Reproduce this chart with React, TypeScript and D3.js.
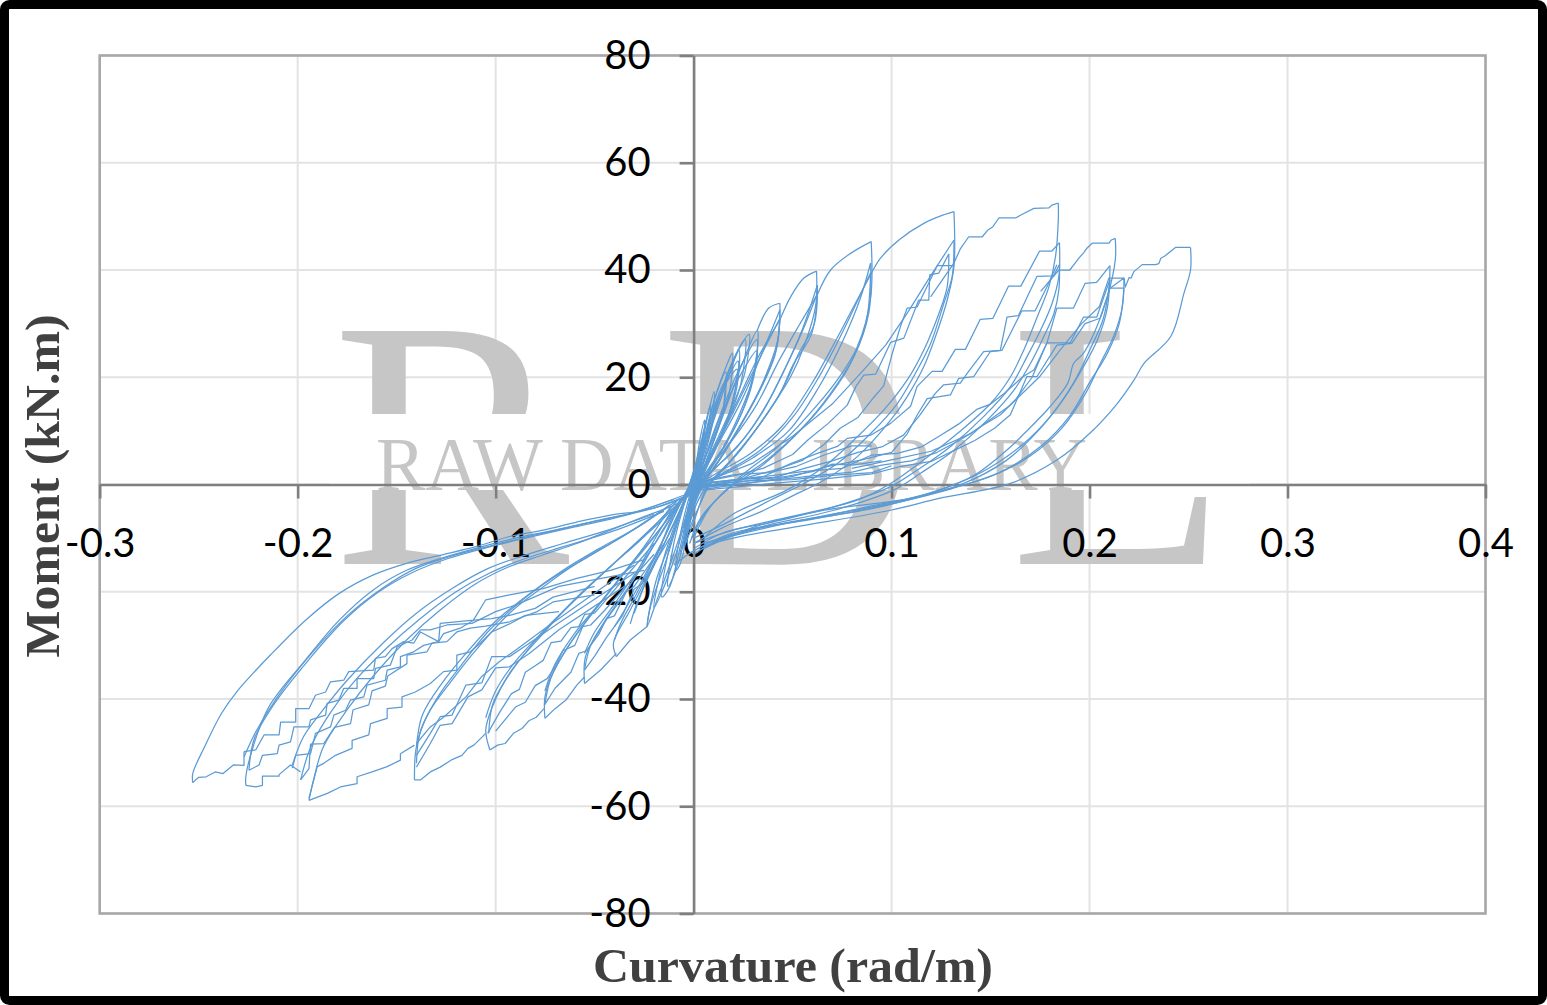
import React, { useEffect, useRef } from "react";
import * as d3 from "d3";

type Pt = [number, number];

const xTicks = [-0.3, -0.2, -0.1, 0, 0.1, 0.2, 0.3, 0.4];
const yTicks = [-80, -60, -40, -20, 0, 20, 40, 60, 80];
const xTitle = "Curvature (rad/m)";
const yTitle = "Moment (kN.m)";

// positive side, stepped reloading up to each peak
const stairP1: Pt[] = [[0, -0.1], [0.0187, 0.8], [0.0355, 1.5], [0.049, 3.9], [0.0625, 5.8], [0.0726, 7.1], [0.0776, 8.6], [0.0894, 9.2], [0.0995, 11.4], [0.1096, 14.6], [0.1129, 18.3], [0.1205, 21.1], [0.1255, 21.1], [0.1322, 25.2], [0.1373, 25.2], [0.1448, 30.8], [0.1512, 31], [0.1591, 37], [0.1653, 37], [0.1747, 43.5], [0.1809, 43.5], [0.1848, 45.1]];
const stairP2: Pt[] = [[0.002, -0.5], [0.022, 0.5], [0.04, 1.2], [0.056, 3], [0.07, 4.4], [0.083, 6], [0.095, 7], [0.106, 9.2], [0.114, 12.8], [0.1221, 17], [0.1263, 18.6], [0.1347, 18.9], [0.1389, 21.1], [0.1465, 24.8], [0.1549, 25], [0.1583, 31.2], [0.1641, 31.5], [0.1734, 38.8], [0.1818, 38.9], [0.1848, 41]];
const stairP3: Pt[] = [[0.003, -1], [0.03, 0.4], [0.05, 1.5], [0.068, 3.4], [0.085, 4.6], [0.1, 6], [0.108, 9.5], [0.113, 13], [0.118, 16], [0.1297, 16.7], [0.1339, 19.8], [0.1415, 20.1], [0.1499, 24.8], [0.1557, 25], [0.1658, 32.4], [0.1725, 32.4], [0.1793, 37.5], [0.1835, 41]];
const stairA1: Pt[] = [[0.002, 0], [0.03, 1.2], [0.055, 2.4], [0.075, 3], [0.09, 5.5], [0.103, 5.8], [0.115, 7], [0.124, 9], [0.134, 11.3], [0.143, 14], [0.15, 15], [0.157, 17], [0.166, 20], [0.172, 21.4], [0.1785, 26.4], [0.1835, 32.9], [0.1919, 32.9], [0.1977, 37.5], [0.2036, 37.7], [0.2103, 40.8]];
const stairA2: Pt[] = [[0.004, -0.6], [0.035, 0.6], [0.06, 1.6], [0.08, 2.3], [0.095, 3.6], [0.11, 4.4], [0.123, 6], [0.135, 8.4], [0.146, 11], [0.155, 13], [0.163, 16], [0.171, 20], [0.1784, 26.4], [0.1902, 26.4], [0.1969, 31.2], [0.2036, 31.2], [0.2103, 38.2]];
const stairA3: Pt[] = [[0.006, -1], [0.04, 0.2], [0.065, 1], [0.09, 2], [0.105, 3.4], [0.12, 4.3], [0.132, 6.4], [0.142, 8.2], [0.152, 10.5], [0.16, 13], [0.1683, 20.1], [0.1734, 20.1], [0.1835, 26], [0.191, 26.3], [0.1977, 30], [0.2053, 31], [0.2103, 36.6], [0.2174, 36.6]];
const stairA4: Pt[] = [[0.08, 3], [0.1, 4.6], [0.12, 6.2], [0.14, 9.5], [0.16, 14.8], [0.175, 20.2], [0.185, 25], [0.196, 30], [0.205, 33.2], [0.2098, 38.5], [0.2174, 38.5]];
const stairT1: Pt[] = [[0.002, 0.3], [0.02, 1.6], [0.035, 3], [0.05, 5.6], [0.058, 8.4], [0.068, 11.4], [0.0776, 14.8], [0.082, 18.3], [0.086, 20.4], [0.092, 20.6], [0.0995, 26.5], [0.1062, 27.3], [0.1137, 34.4], [0.1188, 34.4], [0.1193, 39.1], [0.1238, 39.4], [0.1289, 43]];
const stairT2: Pt[] = [[0.003, -0.5], [0.024, 1], [0.04, 2.6], [0.055, 4.5], [0.066, 7.5], [0.074, 10.5], [0.083, 12.5], [0.09, 15.8], [0.096, 18.4], [0.1, 24], [0.1045, 29.5], [0.1079, 32.9], [0.1129, 33.1], [0.123, 40.8], [0.1314, 40.8]];
const stairT3: Pt[] = [[0.002, 0], [0.03, 4], [0.05, 9], [0.07, 15], [0.085, 21], [0.097, 26], [0.108, 32], [0.119, 38.5], [0.1315, 45.6]];

// positive side, rise to the next peak
const arcTo251: Pt[] = [[0.2103, 36.6], [0.2174, 38.5], [0.218, 36.8], [0.22, 38.6], [0.221, 38.5], [0.2224, 39.7], [0.2266, 41], [0.2333, 41], [0.235, 41.2], [0.236, 42.2], [0.238, 42.6], [0.2434, 44.2], [0.251, 44.2]];
const arcTo213: Pt[] = [[0.1753, 36], [0.1845, 40], [0.19, 40], [0.1925, 41.2], [0.1946, 42.2], [0.197, 43.2], [0.1985, 44], [0.2013, 45], [0.2098, 45], [0.211, 45.6], [0.213, 45.9]];
const arcTo184: Pt[] = [[0.1197, 35], [0.1315, 41.3], [0.1348, 44], [0.139, 46.2], [0.1458, 46.2], [0.1485, 47.4], [0.151, 48], [0.1542, 49.7], [0.1626, 49.7], [0.166, 50.4], [0.1719, 51.5], [0.1795, 51.6], [0.181, 52.1], [0.1842, 52.5]];
const arcTo131: Pt[] = [[0.0894, 39.1], [0.0944, 42.2], [0.1037, 45.6], [0.1163, 48.7], [0.1264, 50.3], [0.1315, 50.9]];
const arcTo090: Pt[] = [[0.0625, 35.4], [0.0692, 40], [0.0793, 43.1], [0.0897, 45.3]];
const arcTo062: Pt[] = [[0.0436, 30.7], [0.049, 35], [0.0557, 38.5], [0.0621, 39.8]];
const arcTo044: Pt[] = [[0.0322, 28.8], [0.038, 32.9], [0.0436, 33.8]];

// positive side, unloading curves running down through zero
const fall251: Pt[] = [[0.251, 44.2], [0.251, 40], [0.2477, 35.7], [0.241, 27.6], [0.2275, 22.6], [0.2225, 19.5], [0.214, 15.1], [0.2, 9.5], [0.1837, 4.6], [0.16, 0.2], [0.124, -2.6], [0.0995, -4.8], [0.05, -8], [0.02, -10], [0.002, -12], [-0.01, -15]];
const fall218a: Pt[] = [[0.2174, 38.5], [0.2165, 33], [0.212, 27.5], [0.206, 23], [0.198, 17], [0.186, 10.5], [0.17, 5.3], [0.15, 1.5], [0.125, -1.2], [0.09, -4.5], [0.05, -7], [0.018, -9.5], [0, -13]];
const fall218b: Pt[] = [[0.2174, 36.6], [0.215, 30], [0.209, 24.5], [0.2, 19], [0.19, 12.8], [0.176, 7.3], [0.156, 2.5], [0.13, -0.8], [0.095, -4], [0.055, -6.8], [0.02, -9], [0.002, -12]];
const fall213a: Pt[] = [[0.213, 45.9], [0.213, 41.9], [0.209, 35], [0.203, 28.8], [0.197, 24.5], [0.192, 22.6], [0.189, 18.9], [0.18, 14.5], [0.167, 9.5], [0.16, 7], [0.143, 2], [0.133, 0.2], [0.113, -2.3], [0.0995, -3.2], [0.066, -4.8], [0.03, -8], [0.005, -12]];
const fall211a: Pt[] = [[0.2103, 40.8], [0.209, 33], [0.204, 27], [0.197, 22], [0.187, 16], [0.174, 10], [0.158, 4.5], [0.135, 0], [0.105, -3], [0.07, -5.6], [0.035, -8], [0.006, -11]];
const fall211b: Pt[] = [[0.2103, 38.2], [0.207, 31], [0.2, 25], [0.192, 19], [0.18, 12.6], [0.166, 7.4], [0.145, 2.2], [0.12, -1.5], [0.085, -4.4], [0.045, -7.4], [0.01, -10.5]];
const fall184a: Pt[] = [[0.1842, 52.5], [0.1842, 49.3], [0.1828, 42.5], [0.1795, 36.9], [0.1736, 31.3], [0.1668, 25.1], [0.1601, 20.1], [0.15, 15.1], [0.1332, 9.5], [0.1163, 4.6], [0.0995, 0.2], [0.0827, -2.9], [0.049, -6], [0.02, -8.5], [0, -11]];
const fall184b: Pt[] = [[0.1848, 45.1], [0.1845, 38.8], [0.1811, 33.8], [0.1753, 28.8], [0.1685, 23.9], [0.1601, 18.3], [0.1466, 12.7], [0.1298, 7.1], [0.113, 2.7], [0.0995, -0.4], [0.0742, -3.8], [0.04, -7], [0.015, -9], [0, -12]];
const fall184c: Pt[] = [[0.1848, 41], [0.1845, 36.3], [0.182, 31.9], [0.1769, 27.6], [0.1702, 22.6], [0.1618, 17.6], [0.1483, 12], [0.1315, 6.4], [0.1146, 2.1], [0.1012, -1], [0.0709, -4.8], [0.035, -7.8], [0.005, -11]];
const fall131a: Pt[] = [[0.1315, 50.9], [0.1315, 40.6], [0.1281, 34.4], [0.1222, 27.6], [0.1163, 22], [0.1079, 16.4], [0.0995, 12], [0.0827, 5.2], [0.0658, 0.8], [0.049, -2.3], [0.0355, -4.8], [0.015, -8], [0, -11]];
const fall131b: Pt[] = [[0.1315, 45.6], [0.1306, 38.8], [0.1264, 33.8], [0.1197, 26.3], [0.113, 21.4], [0.1029, 15.1], [0.0894, 9.5], [0.0726, 3.9], [0.0557, 0.2], [0.0389, -2.9], [0.012, -8], [0, -10]];
const fall131c: Pt[] = [[0.1289, 43], [0.1281, 36.9], [0.1239, 31.9], [0.1163, 25.1], [0.1079, 19.5], [0.0961, 13.9], [0.0827, 8.9], [0.0658, 3.3], [0.0473, -1], [0.02, -5.5], [0.005, -10]];
const fall090a: Pt[] = [[0.0897, 45.3], [0.0894, 34.8], [0.0827, 25.7], [0.0726, 19.5], [0.0574, 12.7], [0.0406, 6.4], [0.0237, 1.5], [0.0086, -4.1], [0, -10]];
const fall090b: Pt[] = [[0.0894, 41.3], [0.0885, 32], [0.081, 23.9], [0.0692, 17], [0.054, 10.2], [0.0372, 4.6], [0.0204, 0.2], [0.0069, -4.8], [-0.001, -10]];
const fall090c: Pt[] = [[0.0894, 39.5], [0.087, 30], [0.0785, 22], [0.0658, 15.1], [0.0507, 8.9], [0.0338, 3.3], [0.017, -1], [0.004, -6], [-0.002, -11]];
const fall062a: Pt[] = [[0.0621, 39.8], [0.0616, 33.2], [0.0557, 25.7], [0.049, 20.1], [0.0372, 13.3], [0.0237, 6.4], [0.0086, 0.2], [0.0019, -4.8], [-0.003, -9]];
const fall062b: Pt[] = [[0.0625, 37.2], [0.061, 30], [0.0532, 24.5], [0.0456, 18.3], [0.0338, 11.4], [0.0204, 5.2], [0.0069, -0.4], [0.001, -6], [-0.004, -11]];
const fall062c: Pt[] = [[0.0625, 35.7], [0.0595, 28], [0.0505, 22.5], [0.043, 16.5], [0.031, 10], [0.018, 4], [0.005, -1.2], [0, -5], [-0.005, -12]];
const fall044a: Pt[] = [[0.0436, 33.8], [0.0426, 27.2], [0.0355, 19.5], [0.0271, 13.3], [0.0153, 5.8], [0.0052, 0.2], [0.0002, -4.1], [-0.005, -10]];
const fall044b: Pt[] = [[0.0436, 32.6], [0.042, 25.5], [0.034, 18], [0.025, 12], [0.0135, 5], [0.004, -0.5], [-0.001, -5], [-0.006, -12]];
const fall044c: Pt[] = [[0.0436, 31], [0.041, 24], [0.032, 16.5], [0.023, 10.5], [0.012, 4], [0.003, -1], [-0.002, -6], [-0.007, -13]];

// reloading lines for the middle amplitudes
const rise090a: Pt[] = [[-0.002, -1], [0.012, 2.2], [0.028, 5.6], [0.045, 11], [0.06, 19], [0.072, 27], [0.082, 34], [0.0894, 39.1]];
const rise090b: Pt[] = [[-0.001, -1], [0.014, 1.8], [0.03, 5], [0.048, 10], [0.063, 18], [0.075, 26.5], [0.084, 34.5], [0.0894, 41.3]];
const rise090c: Pt[] = [[0, -0.5], [0.018, 2.8], [0.034, 6.5], [0.05, 12.5], [0.064, 20.5], [0.076, 29], [0.085, 36], [0.0894, 39.5]];
const rise062a: Pt[] = [[-0.002, -1.2], [0.01, 2.8], [0.022, 7], [0.034, 13], [0.046, 21.5], [0.055, 29], [0.0625, 37.2]];
const rise062b: Pt[] = [[-0.001, -0.8], [0.012, 3.4], [0.025, 8.4], [0.037, 15], [0.048, 23], [0.056, 29.5], [0.0625, 35.7]];
const rise062c: Pt[] = [[-0.002, -1.5], [0.009, 3.5], [0.02, 8.5], [0.032, 15], [0.043, 23], [0.053, 29.5], [0.0625, 35.4]];
const rise044a: Pt[] = [[-0.003, -1.5], [0.006, 3.5], [0.014, 8.6], [0.024, 15.5], [0.034, 24], [0.0436, 32.6]];
const rise044b: Pt[] = [[-0.002, -1], [0.007, 4.5], [0.016, 10.5], [0.026, 18], [0.036, 25.5], [0.0436, 31]];
const rise044c: Pt[] = [[-0.003, -2], [0.005, 3], [0.012, 8], [0.022, 15.5], [0.033, 24], [0.0436, 30.7]];

// tight cycles close to the origin, positive side
const smallP1: Pt[] = [[-0.005, -8], [0, -3], [0.008, 6], [0.016, 14], [0.024, 22], [0.0322, 28.8], [0.031, 22], [0.025, 14], [0.017, 8], [0.008, 2.5], [0, -3], [-0.004, -8]];
const smallP2: Pt[] = [[-0.004, -7], [0, -2], [0.007, 6.5], [0.015, 14.5], [0.023, 21.5], [0.032, 27], [0.03, 20], [0.023, 13], [0.015, 7], [0.006, 2], [-0.001, -4], [-0.005, -10]];
const smallP3: Pt[] = [[-0.005, -9], [-0.001, -3], [0.006, 5], [0.014, 13], [0.023, 20], [0.032, 25], [0.029, 18], [0.022, 11.5], [0.013, 5.5], [0.005, 1], [-0.002, -5]];
const smallP4: Pt[] = [[-0.004, -6], [0, -1.5], [0.006, 7], [0.012, 14], [0.018, 20.5], [0.0229, 25.1], [0.022, 18.5], [0.017, 12], [0.01, 6], [0.004, 1], [-0.002, -5], [-0.005, -9]];
const smallP5: Pt[] = [[-0.003, -5], [0, -1], [0.005, 7], [0.01, 13.5], [0.016, 19], [0.0225, 23], [0.02, 16], [0.015, 10], [0.008, 4.5], [0.002, 0], [-0.003, -6]];
const smallP6: Pt[] = [[-0.004, -7], [-0.001, -2], [0.004, 5.5], [0.009, 12], [0.015, 18], [0.022, 21.5], [0.019, 14.5], [0.013, 8.5], [0.006, 3], [0, -2.5]];
const smallP7: Pt[] = [[-0.003, -6], [0, -0.5], [0.004, 6], [0.008, 12.5], [0.012, 17.5], [0.0162, 21], [0.0155, 15], [0.011, 9], [0.006, 4], [0.001, -1], [-0.003, -7]];
const smallP8: Pt[] = [[-0.002, -4], [0.001, 1], [0.005, 7.5], [0.009, 13], [0.0155, 19], [0.0145, 13], [0.009, 7], [0.004, 2], [-0.001, -3.5]];
const smallP9: Pt[] = [[-0.003, -5], [0, 0], [0.004, 7], [0.007, 12.5], [0.0103, 17.3], [0.0095, 11.5], [0.006, 6], [0.002, 1], [-0.002, -4.5]];
const smallP10: Pt[] = [[-0.002, -4], [0.001, 2], [0.004, 8], [0.0085, 15], [0.0075, 9.5], [0.004, 4.5], [0, -1], [-0.003, -6]];
const smallP11: Pt[] = [[-0.002, -3], [0.001, 3], [0.003, 8], [0.0055, 12], [0.0048, 7], [0.002, 2], [-0.001, -2.5]];
const smallP12: Pt[] = [[-0.003, -4.5], [0.001, 0.5], [0.0065, 8], [0.012, 15], [0.0185, 22], [0.026, 27], [0.024, 19], [0.018, 12.5], [0.011, 6.5], [0.004, 1.5], [-0.002, -4]];
const smallP13: Pt[] = [[-0.003, -5.5], [0, -1], [0.0075, 9], [0.0135, 16.5], [0.02, 23], [0.028, 28], [0.026, 21], [0.02, 15], [0.012, 8.5], [0.005, 3], [-0.001, -3]];
const smallP14: Pt[] = [[-0.002, -3.5], [0.002, 3], [0.0065, 10], [0.0115, 17], [0.017, 22.5], [0.0195, 24.5], [0.018, 17], [0.0125, 11], [0.007, 6], [0.002, 1.5], [-0.002, -3]];

// loose low branches leaving the origin to the right
const lowRun1: Pt[] = [[-0.002, -1], [0.01, 0.5], [0.025, 1], [0.045, 1.4], [0.06, 2.4], [0.07, 3.8], [0.08, 3.6], [0.095, 4.4]];
const lowRun2: Pt[] = [[-0.001, -0.5], [0.008, 0.9], [0.02, 1.8], [0.038, 2.2], [0.052, 3.4], [0.066, 5.5], [0.08, 7.2], [0.09, 7.2]];
const lowRun3: Pt[] = [[0, -1.2], [0.012, 0.2], [0.03, 0.7], [0.05, 0.9], [0.07, 1.7], [0.09, 2.2], [0.1, 3.5]];

// negative side, curves recovering from each peak back to the origin
const rise253: Pt[] = [[-0.253, -55.6], [-0.253, -53.9], [-0.247, -48.9], [-0.2385, -42.7], [-0.23, -38.3], [-0.213, -31.5], [-0.196, -25.3], [-0.179, -20.3], [-0.162, -16.9], [-0.145, -14.7], [-0.128, -13.2], [-0.11, -11.6], [-0.093, -9.7], [-0.076, -8.5], [-0.059, -7], [-0.042, -5.7], [-0.025, -4.8], [-0.008, -2.9], [0.002, -1]];
const rise226a: Pt[] = [[-0.2262, -56.1], [-0.2262, -54.5], [-0.223, -49.5], [-0.2146, -41.5], [-0.196, -32.7], [-0.179, -25.3], [-0.162, -19.7], [-0.145, -16], [-0.128, -13.8], [-0.11, -11.9], [-0.09, -10], [-0.07, -8.5], [-0.045, -6.4], [-0.02, -4.4], [0, -1.5]];
const rise226b: Pt[] = [[-0.2271, -50.8], [-0.221, -46], [-0.21, -39.5], [-0.193, -31.5], [-0.175, -24.5], [-0.157, -19.3], [-0.14, -15.6], [-0.122, -13.3], [-0.1, -11.2], [-0.08, -9.4], [-0.055, -7.3], [-0.03, -5.2], [-0.005, -2]];
const rise226c: Pt[] = [[-0.2246, -53.3], [-0.222, -47.5], [-0.212, -41], [-0.194, -32.5], [-0.177, -25.5], [-0.159, -20], [-0.142, -16.4], [-0.124, -13.8], [-0.105, -11.8], [-0.085, -10], [-0.06, -7.9], [-0.035, -5.8], [-0.01, -2.8]];
const rise194a: Pt[] = [[-0.1943, -58.9], [-0.192, -55.1], [-0.187, -48.9], [-0.175, -42], [-0.162, -35.8], [-0.145, -29], [-0.128, -23.4], [-0.11, -18.5], [-0.093, -15.3], [-0.076, -13.1], [-0.059, -11], [-0.042, -8.5], [-0.025, -6], [-0.008, -3.5], [0.002, -0.8]];
const rise194b: Pt[] = [[-0.1985, -55.1], [-0.194, -49.5], [-0.186, -44], [-0.172, -37], [-0.155, -30.5], [-0.138, -25], [-0.12, -20], [-0.103, -16.5], [-0.085, -13.8], [-0.065, -11.5], [-0.04, -8.6], [-0.015, -5]];
const rise194c: Pt[] = [[-0.2027, -52.3], [-0.197, -47], [-0.188, -42.4], [-0.175, -36.5], [-0.157, -29.6], [-0.14, -24], [-0.122, -19.4], [-0.104, -15.7], [-0.087, -13.4], [-0.066, -11], [-0.045, -8.7], [-0.02, -5.5]];
const rise141a: Pt[] = [[-0.141, -55.1], [-0.14, -48.9], [-0.134, -42.7], [-0.122, -36.5], [-0.11, -30.9], [-0.093, -24], [-0.076, -19.1], [-0.059, -14.7], [-0.042, -11], [-0.025, -7.2], [-0.008, -2.9]];
const rise141b: Pt[] = [[-0.14, -52], [-0.138, -46], [-0.129, -39.5], [-0.118, -34], [-0.104, -27.5], [-0.088, -22], [-0.071, -17.4], [-0.053, -13.4], [-0.035, -9.5], [-0.015, -4.6]];
const rise141c: Pt[] = [[-0.14, -48.9], [-0.137, -43], [-0.127, -37], [-0.115, -31.5], [-0.1, -25.5], [-0.083, -20.4], [-0.066, -16], [-0.048, -12], [-0.03, -8.3], [-0.012, -3.8]];
const rise105a: Pt[] = [[-0.1029, -49.5], [-0.105, -45.8], [-0.1017, -41.5], [-0.093, -35.2], [-0.076, -27.8], [-0.059, -21], [-0.042, -15.3], [-0.025, -9.7], [-0.008, -2.9]];
const rise105b: Pt[] = [[-0.1035, -46.4], [-0.1015, -41], [-0.095, -36.5], [-0.082, -30], [-0.066, -23.8], [-0.05, -18], [-0.034, -12.6], [-0.017, -7], [-0.003, -1.5]];
const rise105c: Pt[] = [[-0.105, -43.5], [-0.1, -38.5], [-0.09, -33], [-0.075, -27], [-0.06, -21.5], [-0.044, -16], [-0.028, -10.5], [-0.011, -4.5]];
const rise075a: Pt[] = [[-0.0751, -43.6], [-0.0751, -39.6], [-0.0713, -35.3], [-0.059, -27.8], [-0.042, -19.7], [-0.025, -11.6], [-0.0116, -4.1]];
const rise075b: Pt[] = [[-0.0751, -41], [-0.072, -36], [-0.063, -30], [-0.05, -23.5], [-0.036, -17], [-0.02, -9.8], [-0.006, -2.5]];
const rise075c: Pt[] = [[-0.0751, -38.5], [-0.07, -33.5], [-0.06, -27.7], [-0.046, -21.5], [-0.032, -15], [-0.016, -7.8], [-0.002, -1]];
const rise055a: Pt[] = [[-0.0551, -37.1], [-0.0546, -32.1], [-0.0474, -27.1], [-0.0337, -19.7], [-0.0218, -11.6], [-0.0099, -4.1]];
const rise055b: Pt[] = [[-0.0551, -34.6], [-0.052, -30], [-0.044, -25], [-0.03, -17.6], [-0.018, -10], [-0.006, -2.5]];
const rise055c: Pt[] = [[-0.0551, -31.5], [-0.05, -27.5], [-0.04, -22.3], [-0.027, -15.2], [-0.015, -8.4], [-0.003, -1]];
const rise041a: Pt[] = [[-0.039, -32.1], [-0.0405, -29.6], [-0.032, -23.4], [-0.0201, -14.7], [-0.0099, -5.4], [0.001, 1]];
const rise041b: Pt[] = [[-0.04, -29], [-0.037, -26], [-0.029, -20.5], [-0.018, -12.5], [-0.007, -3.8], [0.002, 2]];
const rise041c: Pt[] = [[-0.04, -26.5], [-0.035, -23.5], [-0.026, -17.8], [-0.015, -10], [-0.005, -2.2], [0.003, 3]];
const rise032a: Pt[] = [[-0.0235, -26.5], [-0.0218, -22.8], [-0.0133, -13.5], [-0.0065, -5.4], [0.001, 2], [0.004, 5]];
const rise032b: Pt[] = [[-0.032, -26], [-0.028, -21.5], [-0.018, -13.5], [-0.008, -5.6], [0, 1], [0.005, 6]];
const rise032c: Pt[] = [[-0.03, -24], [-0.025, -19], [-0.016, -12], [-0.007, -5], [0.001, 2.5], [0.006, 8]];

// negative side, stepped loading towards each peak
const stairNA: Pt[] = [[-0.025, -14], [-0.042, -16], [-0.059, -17.5], [-0.076, -19.4], [-0.093, -20.6], [-0.105, -21.5], [-0.1112, -25.3], [-0.128, -25.9], [-0.1288, -29.3], [-0.138, -27.5], [-0.1414, -29.6], [-0.1464, -29.3], [-0.1523, -30.6], [-0.1557, -32.1], [-0.1607, -32.4], [-0.1616, -34.6], [-0.1742, -34.9], [-0.1767, -36.5], [-0.1834, -36.8], [-0.1859, -38.7], [-0.191, -39.3], [-0.1943, -41.8], [-0.201, -41.8], [-0.201, -44.3], [-0.2086, -44.3], [-0.2094, -46.7], [-0.2103, -46.7], [-0.217, -46.7], [-0.2212, -49.5], [-0.2271, -49.8]];
const stairNB: Pt[] = [[-0.025, -16], [-0.042, -17.2], [-0.068, -19], [-0.09, -22.5], [-0.1, -23.7], [-0.112, -25.9], [-0.1246, -26.2], [-0.133, -27.1], [-0.138, -27.1], [-0.1422, -29], [-0.1498, -30.3], [-0.1532, -33.7], [-0.1607, -34.3], [-0.1616, -36.2], [-0.17, -36.2], [-0.17, -38], [-0.1767, -38], [-0.1792, -40.2], [-0.1851, -40.8], [-0.1859, -43], [-0.1935, -43.9], [-0.1943, -45.2], [-0.2019, -45.2], [-0.2036, -48], [-0.2094, -48.6], [-0.2103, -50.2], [-0.2178, -50.5], [-0.2195, -52.3], [-0.2246, -53.3]];
const stairNC: Pt[] = [[-0.05, -19], [-0.071, -21], [-0.08, -23.1], [-0.093, -24.4], [-0.102, -25], [-0.1112, -25.3], [-0.1179, -26.8], [-0.1263, -27.8], [-0.1288, -29.3], [-0.1364, -30], [-0.1414, -31.2], [-0.1481, -32.1], [-0.1481, -34], [-0.1548, -34.6], [-0.1557, -36.5], [-0.165, -37.4], [-0.1666, -39.6], [-0.1733, -40.2], [-0.1758, -42.1], [-0.1817, -43], [-0.1834, -45.2], [-0.191, -46.4], [-0.1935, -50.2], [-0.201, -50.5], [-0.2027, -52.9]];
const stairND: Pt[] = [[-0.05, -20.6], [-0.071, -21.9], [-0.079, -23.7], [-0.093, -25.6], [-0.105, -26.4], [-0.1128, -26.8], [-0.1196, -27.5], [-0.1246, -29.3], [-0.1322, -29.6], [-0.1347, -31.2], [-0.1448, -31.8], [-0.1448, -33.4], [-0.1545, -35.7], [-0.1557, -37.6], [-0.1624, -38.5], [-0.1641, -41.1], [-0.172, -42], [-0.1733, -44.6], [-0.1814, -45.3], [-0.1868, -48.3], [-0.1935, -48.4], [-0.1943, -53], [-0.1985, -55.1]];
const stairNE: Pt[] = [[-0.068, -23.7], [-0.085, -24.4], [-0.093, -26], [-0.102, -27.5], [-0.1078, -29.6], [-0.1128, -31.2], [-0.1196, -31.8], [-0.1196, -34.6], [-0.1263, -34.9], [-0.133, -37.1], [-0.1406, -38.7], [-0.1473, -39.6], [-0.1473, -41.5], [-0.1548, -41.8], [-0.1548, -43.6], [-0.1632, -44.6], [-0.1641, -46.7], [-0.1725, -47.7], [-0.1725, -49.2], [-0.1809, -50.5], [-0.1868, -52], [-0.1901, -52.6], [-0.1943, -58.5]];
const stairNF: Pt[] = [[-0.03, -15], [-0.076, -27.1], [-0.09, -30.9], [-0.098, -33], [-0.107, -35.8], [-0.115, -39.6], [-0.126, -43.3], [-0.133, -45.2], [-0.14, -48.3]];
const stairNG: Pt[] = [[-0.03, -16.5], [-0.068, -25.8], [-0.083, -29.6], [-0.093, -32.1], [-0.102, -32.1], [-0.107, -37], [-0.115, -37.4], [-0.122, -43], [-0.128, -43.3], [-0.133, -46.4], [-0.14, -50.5]];
const stairNH: Pt[] = [[-0.035, -19], [-0.068, -27.1], [-0.083, -31.5], [-0.093, -34], [-0.1, -34.2], [-0.107, -38.3], [-0.114, -39.6], [-0.122, -44.6], [-0.128, -44.9], [-0.133, -48.3], [-0.14, -52.7]];
const stairNI: Pt[] = [[-0.02, -11], [-0.05, -24], [-0.055, -24.2], [-0.058, -26.5], [-0.062, -26.7], [-0.067, -29.2], [-0.072, -29.5], [-0.076, -32.8], [-0.08, -33.8], [-0.085, -35], [-0.088, -38.2], [-0.092, -39], [-0.098, -42.5], [-0.104, -46.4]];
const stairNJ: Pt[] = [[-0.02, -13], [-0.045, -23.5], [-0.052, -26.2], [-0.056, -26.5], [-0.06, -30], [-0.066, -31], [-0.07, -34], [-0.074, -36.2], [-0.08, -37.5], [-0.085, -40.6], [-0.09, -41.5], [-0.1, -46]];
const stairNK: Pt[] = [[-0.015, -11], [-0.03, -19], [-0.034, -20], [-0.04, -24.5], [-0.044, -25], [-0.048, -28], [-0.054, -31], [-0.058, -31.5], [-0.062, -35], [-0.07, -38], [-0.0751, -41]];
const stairNL: Pt[] = [[-0.012, -10], [-0.026, -18.5], [-0.03, -19.5], [-0.036, -24.5], [-0.044, -28.5], [-0.05, -32], [-0.0551, -34.6]];

// negative side, outer steps between the peaks
const arcNeg253: Pt[] = [[-0.2271, -49.8], [-0.2271, -52.4], [-0.2325, -52.3], [-0.2377, -53.9], [-0.2417, -53.6], [-0.2462, -54.5], [-0.25, -54.6], [-0.253, -55.6]];
const arcNeg226: Pt[] = [[-0.1985, -53.6], [-0.2036, -52.3], [-0.2094, -54.1], [-0.2094, -54.4], [-0.2178, -54.4], [-0.2178, -56.1], [-0.2212, -56.4], [-0.2262, -56.1]];
const arcNeg194: Pt[] = [[-0.141, -48.6], [-0.1481, -50.2], [-0.1481, -51.4], [-0.1548, -52.6], [-0.1624, -53.6], [-0.17, -54.5], [-0.17, -55.8], [-0.1784, -56.4], [-0.185, -57.6], [-0.1943, -58.9]];
const arcNeg141: Pt[] = [[-0.105, -46.4], [-0.111, -48.6], [-0.114, -49.2], [-0.117, -50.5], [-0.122, -51.3], [-0.128, -52.7], [-0.133, -53.6], [-0.138, -55.1], [-0.141, -55.1]];
const arcNeg105: Pt[] = [[-0.0756, -41.8], [-0.0795, -43.4], [-0.083, -44], [-0.0867, -45.5], [-0.091, -46.4], [-0.0952, -48.3], [-0.099, -48.6], [-0.1029, -49.5]];
const arcNeg075: Pt[] = [[-0.0551, -35.9], [-0.059, -37.4], [-0.0645, -40.2], [-0.07, -41.8], [-0.0751, -43.6]];
const arcNeg055: Pt[] = [[-0.039, -31.5], [-0.047, -34.6], [-0.0551, -37.1]];
const arcNeg041: Pt[] = [[-0.0235, -26.5], [-0.032, -29], [-0.039, -32.1]];

// tight cycles close to the origin, negative side
const smallN1: Pt[] = [[0.003, 4], [-0.004, -6], [-0.011, -14], [-0.018, -21], [-0.0235, -26.5], [-0.019, -18], [-0.012, -11], [-0.005, -3], [0.002, 4]];
const smallN2: Pt[] = [[0.004, 5], [-0.003, -5], [-0.009, -13], [-0.016, -20], [-0.02, -23], [-0.016, -15], [-0.01, -8], [-0.003, -1], [0.003, 6]];
const smallN3: Pt[] = [[0.004, 7], [-0.002, -4], [-0.007, -12], [-0.012, -19], [-0.016, -21], [-0.013, -13], [-0.008, -6.5], [-0.002, 0], [0.004, 8]];
const smallN4: Pt[] = [[0.005, 8], [0, -3], [-0.005, -11], [-0.01, -17], [-0.013, -19], [-0.01, -11], [-0.005, -4], [0.001, 3], [0.005, 10]];
const smallN5: Pt[] = [[0.005, 9], [0.001, -1], [-0.003, -9], [-0.007, -15], [-0.009, -16], [-0.006, -8], [-0.002, -2], [0.003, 5], [0.006, 12]];

// branches with corners, drawn straight from point to point
const steppedBranches: Pt[][] = [
  stairP1, stairP2, stairP3, stairA1, stairA2, stairA3, stairA4, stairT1, stairT2, stairT3,
  arcTo251, arcTo213, arcTo184,
  stairNA, stairNB, stairNC, stairND, stairNE, stairNF, stairNG, stairNH, stairNI, stairNJ, stairNK, stairNL,
  arcNeg253, arcNeg226, arcNeg194, arcNeg141, arcNeg105, arcNeg075, arcNeg055, arcNeg041,
  lowRun1, lowRun2, lowRun3,
];

// branches without corners
const smoothBranches: Pt[][] = [
  arcTo131, arcTo090, arcTo062, arcTo044,
  fall251, fall218a, fall218b, fall213a, fall211a, fall211b, fall184a, fall184b, fall184c,
  fall131a, fall131b, fall131c, fall090a, fall090b, fall090c, fall062a, fall062b, fall062c,
  fall044a, fall044b, fall044c,
  rise090a, rise090b, rise090c, rise062a, rise062b, rise062c, rise044a, rise044b, rise044c,
  smallP1, smallP2, smallP3, smallP4, smallP5, smallP6, smallP7, smallP8, smallP9, smallP10, smallP11,
  smallP12, smallP13, smallP14,
  rise253, rise226a, rise226b, rise226c, rise194a, rise194b, rise194c, rise141a, rise141b, rise141c,
  rise105a, rise105b, rise105c, rise075a, rise075b, rise075c, rise055a, rise055b, rise055c,
  rise041a, rise041b, rise041c, rise032a, rise032b, rise032c,
  smallN1, smallN2, smallN3, smallN4, smallN5,
];

export default function App() {
  const ref = useRef<SVGSVGElement | null>(null);

  useEffect(() => {
    const svg = d3.select(ref.current);
    svg.selectAll("*").remove();

    const x = d3.scaleLinear().domain([-0.3, 0.4]).range([99.7, 1485.5]);
    const y = d3.scaleLinear().domain([-80, 80]).range([913.5, 55.5]);

    svg.append("rect").attr("width", 1547).attr("height", 1005).attr("fill", "white");
    svg.append("rect")
      .attr("x", 4.5).attr("y", 4.5).attr("width", 1538).attr("height", 996)
      .attr("rx", 5)
      .attr("fill", "white").attr("stroke", "black").attr("stroke-width", 9);

    // grid
    svg.append("g").selectAll("line").data(xTicks).join("line")
      .attr("x1", (d) => x(d)).attr("x2", (d) => x(d))
      .attr("y1", y(80)).attr("y2", y(-80))
      .attr("stroke", "#e3e3e3").attr("stroke-width", 2);
    svg.append("g").selectAll("line").data(yTicks).join("line")
      .attr("y1", (d) => y(d)).attr("y2", (d) => y(d))
      .attr("x1", x(-0.3)).attr("x2", x(0.4))
      .attr("stroke", "#e3e3e3").attr("stroke-width", 2);

    // watermark
    const mark = svg.append("g").attr("fill", "#c6c6c6").attr("font-family", "'Liberation Serif'");
    [["R", 332], ["D", 660], ["L", 1010]].forEach(([t, px]) => {
      mark.append("text").attr("x", px).attr("y", 564).attr("font-size", 356).text(t as string);
    });
    mark.append("rect").attr("x", 330).attr("y", 414).attr("width", 920).attr("height", 76).attr("fill", "white");
    mark.append("text")
      .attr("x", 376).attr("y", 490).attr("font-size", 76)
      .attr("textLength", 711).attr("lengthAdjust", "spacingAndGlyphs")
      .text("RAW DATA LIBRARY");

    // frame
    svg.append("rect")
      .attr("x", x(-0.3)).attr("y", y(80))
      .attr("width", x(0.4) - x(-0.3)).attr("height", y(-80) - y(80))
      .attr("fill", "none").attr("stroke", "#a9a7a8").attr("stroke-width", 2.6);

    // axes cross at zero
    const xAxis = svg.append("g")
      .attr("transform", `translate(0,${y(0)})`)
      .call(d3.axisBottom(x).tickValues(xTicks).tickFormat((d) => String(d)).tickSize(14).tickPadding(30).tickSizeOuter(0));
    const yAxis = svg.append("g")
      .attr("transform", `translate(${x(0)},0)`)
      .call(d3.axisLeft(y).tickValues(yTicks).tickFormat((d) => String(d)).tickSize(14).tickPadding(29).tickSizeOuter(0));

    [xAxis, yAxis].forEach((a) => {
      a.selectAll("path").attr("stroke", "#7f7f7f").attr("stroke-width", 2.6);
      a.selectAll("line").attr("stroke", "#7f7f7f").attr("stroke-width", 2.6);
      a.selectAll("text")
        .attr("fill", "black")
        .attr("font-family", "Lato")
        .attr("font-size", 40);
    });

    // hysteresis loops
    const straight = d3.line<Pt>().x((d) => x(d[0])).y((d) => y(d[1]));
    const curved = d3.line<Pt>().x((d) => x(d[0])).y((d) => y(d[1])).curve(d3.curveCatmullRom.alpha(0.5));
    const loops = svg.append("g")
      .attr("fill", "none")
      .attr("stroke", "#5b9bd5")
      .attr("stroke-width", 1.25)
      .attr("stroke-linejoin", "round");
    loops.selectAll("path.smooth").data(smoothBranches).join("path")
      .attr("class", "smooth")
      .attr("d", (d) => curved(d));
    loops.selectAll("path.stepped").data(steppedBranches).join("path")
      .attr("class", "stepped")
      .attr("d", (d) => straight(d));

    // titles
    svg.append("text")
      .attr("x", 793).attr("y", 982)
      .attr("text-anchor", "middle")
      .attr("font-family", "'Liberation Serif'").attr("font-weight", "bold")
      .attr("font-size", 48).attr("fill", "#404040")
      .attr("textLength", 400).attr("lengthAdjust", "spacingAndGlyphs")
      .text(xTitle);
    svg.append("text")
      .attr("transform", "translate(59,486) rotate(-90)")
      .attr("text-anchor", "middle")
      .attr("font-family", "'Liberation Serif'").attr("font-weight", "bold")
      .attr("font-size", 48).attr("fill", "#404040")
      .attr("textLength", 343).attr("lengthAdjust", "spacingAndGlyphs")
      .text(yTitle);
  }, []);

  return (
    <svg
      ref={ref}
      width={1547}
      height={1005}
      style={{ position: "absolute", left: 0, top: 0 }}
    />
  );
}
